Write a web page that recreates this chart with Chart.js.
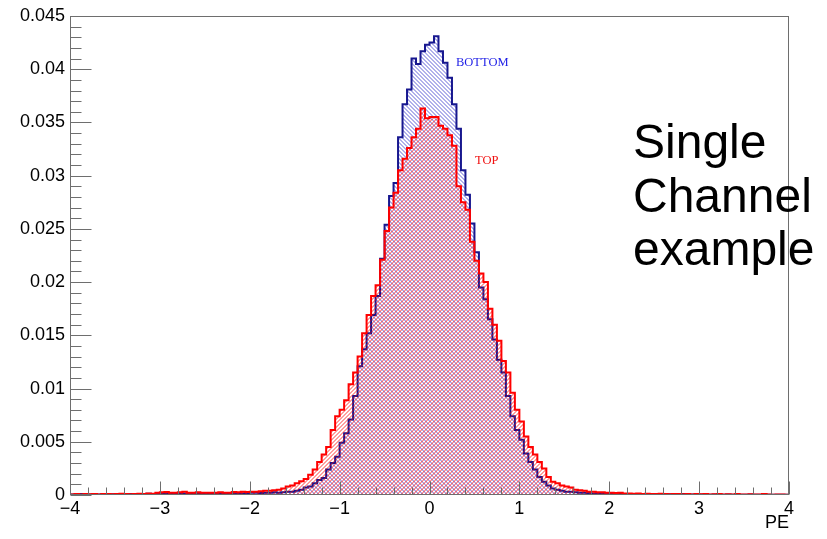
<!DOCTYPE html>
<html><head><meta charset="utf-8">
<script src="https://cdn.jsdelivr.net/npm/chart.js@4/dist/chart.umd.min.js"></script>
<style>html,body{margin:0;padding:0;background:#fff;}canvas{display:block;}</style>
</head><body>
<canvas id="c" width="827" height="539"></canvas>
<script>
// Histogram axis definition (categories = bins)
const histXMin = -4, histXMax = 4, histBins = 160;

// TOP channel (red), one value per bin
const topValues = [
 0.00005,0.0001,0.00005,0.0001,0.00008,0.0001,0.00005,0.0001,0.0001,0.00008,
 0.0001,0.00012,0.0001,0.00008,0.0001,0.00012,0.0001,0.00015,0.00012,0.0002,
 0.00025,0.00028,0.0002,0.00022,0.00025,0.0003,0.00022,0.0002,0.00025,0.0002,
 0.0002,0.00022,0.0002,0.00025,0.0002,0.00022,0.00028,0.00025,0.0003,0.00028,
 0.0003,0.0003,0.00035,0.0004,0.0004,0.00045,0.0005,0.0006,0.0008,0.0009,
 0.0011,0.0013,0.0015,0.0019,0.0024,0.0031,0.0038,0.0045,0.0061,0.0074,
 0.0080,0.0089,0.0104,0.0115,0.0130,0.0152,0.0169,0.0187,0.0197,0.0221,
 0.0248,0.0270,0.0284,0.0305,0.0316,0.0326,0.0336,0.0344,0.0363,0.0354,
 0.0355,0.0355,0.0347,0.0344,0.0338,0.0328,0.0290,0.0275,0.0268,0.0238,
 0.0220,0.0208,0.0200,0.0175,0.0160,0.0145,0.0126,0.0115,0.0096,0.0080,
 0.0069,0.0055,0.0045,0.0038,0.0031,0.0025,0.0017,0.00125,0.0011,0.0009,
 0.0008,0.0007,0.0005,0.00045,0.0004,0.0003,0.0003,0.00025,0.00025,0.0002,
 0.0002,0.00018,0.0002,0.00015,0.00015,0.00012,0.00015,0.0001,0.00012,0.0001,
 0.0001,0.00012,0.0001,0.00008,0.0001,0.0001,0.00008,0.0001,0.00005,0.0001,
 0.00008,0.0001,0.00005,0.00008,0.0001,0.00005,0.00008,0.00005,0.0001,0.00005,
 0.00005,0.00008,0.00005,0.00005,0.0001,0.00005,0.00003,0.00005,0.00005,0.00003
];

// BOTTOM channel (blue), one value per bin
const bottomValues = [
 0.00005,0.00005,0.0001,0.00005,0.00005,0.0001,0.00005,0.0001,0.00005,0.00008,
 0.0001,0.00005,0.0001,0.0001,0.00008,0.0001,0.0001,0.00012,0.0001,0.0001,
 0.00012,0.0001,0.00015,0.0001,0.00012,0.00015,0.0001,0.00012,0.0001,0.00012,
 0.0001,0.00012,0.0001,0.00015,0.00012,0.0001,0.00015,0.00012,0.00015,0.00018,
 0.0002,0.0002,0.00018,0.0002,0.00022,0.00025,0.0002,0.00025,0.0003,0.0003,
 0.0004,0.0005,0.0007,0.0008,0.0011,0.0014,0.0016,0.0024,0.0030,0.0036,
 0.0049,0.0058,0.0071,0.0093,0.0121,0.0137,0.0152,0.0169,0.0187,0.0222,
 0.0254,0.0281,0.0293,0.0336,0.0367,0.0381,0.0410,0.0405,0.0417,0.0423,
 0.0425,0.0431,0.0417,0.0406,0.0392,0.0367,0.0344,0.0305,0.0282,0.0255,
 0.0228,0.0195,0.0184,0.0165,0.0146,0.0127,0.0115,0.0093,0.0074,0.0061,
 0.0052,0.0039,0.0031,0.0024,0.0017,0.00125,0.0009,0.0006,0.0005,0.0004,
 0.0003,0.0003,0.00025,0.0002,0.0002,0.00018,0.00015,0.00015,0.00012,0.00012,
 0.0001,0.00012,0.0001,0.0001,0.00008,0.0001,0.0001,0.00008,0.0001,0.00005,
 0.00008,0.0001,0.00005,0.00008,0.00005,0.00005,0.0001,0.00005,0.00005,0.00008,
 0.00005,0.00005,0.00003,0.00005,0.00005,0.00003,0.00005,0.00003,0.00005,0.00003,
 0.00003,0.00005,0.00003,0.00003,0.00005,0.00003,0.00002,0.00003,0.00003,0.00002
];

const seriesNames = ['TOP', 'BOTTOM'];
const xTickValues = [-4, -3, -2, -1, 0, 1, 2, 3, 4];
const xTickLabels = ['\u22124', '\u22123', '\u22122', '\u22121', '0', '1', '2', '3', '4'];
const yTickLabels = ['0', '0.005', '0.01', '0.015', '0.02', '0.025', '0.03', '0.035', '0.04', '0.045'];
const xAxisTitle = 'PE';
const noteLines = ['Single', 'Channel', 'example'];

const canvas = document.getElementById('c');
const mainCtx = canvas.getContext('2d');

function toPoints(vals) {
  const w = (histXMax - histXMin) / histBins;
  const pts = vals.map((v, i) => ({ x: histXMin + i * w, y: v }));
  pts.push({ x: histXMax, y: vals[vals.length - 1] });
  return pts;
}

// 4px hatch tile with 2px-wide diagonal stripes
function hatch(color, dir) {
  const s = 4;
  const c = document.createElement('canvas');
  c.width = s; c.height = s;
  const g = c.getContext('2d');
  g.fillStyle = color;
  for (let yy = 0; yy < s; yy++) {
    for (let xx = 0; xx < s; xx++) {
      const k = dir > 0 ? (xx + yy) % s : ((xx - yy) % s + s) % s;
      if (dir > 0 ? (k === 2 || k === 3) : (k === 0 || k === 1)) g.fillRect(xx, yy, 1, 1);
    }
  }
  return mainCtx.createPattern(c, 'repeat');
}

Chart.defaults.font.family = "'Liberation Sans', Arial, sans-serif";
Chart.defaults.color = '#000';

const decor = {
  id: 'decor',
  afterDraw(chart) {
    const { ctx, chartArea: a, scales: { x, y } } = chart;
    ctx.save();
    ctx.strokeStyle = '#6e6e6e';
    ctx.lineWidth = 1;
    const L = Math.round(a.left) + 0.5, R = Math.round(a.right) - 0.5;
    const T = Math.round(a.top) + 0.5, B = Math.round(a.bottom) - 0.5;
    ctx.strokeRect(L, T, R - L, B - T);
    ctx.beginPath();
    for (let j = 0; j <= 40; j++) {
      const px = Math.round(x.getPixelForValue(histXMin + j * 0.2)) + 0.5;
      ctx.moveTo(px, B); ctx.lineTo(px, B - (j % 5 === 0 ? 13 : 7));
    }
    for (let j = 0; j <= 45; j++) {
      const py = Math.round(y.getPixelForValue(j * 0.001)) + 0.5;
      ctx.moveTo(L, py); ctx.lineTo(L + (j % 5 === 0 ? 21 : 11), py);
    }
    ctx.stroke();

    ctx.font = "12.5px 'Liberation Serif', 'Times New Roman', serif";
    ctx.textBaseline = 'alphabetic';
    ctx.textAlign = 'left';
    ctx.fillStyle = '#1e1ee6';
    ctx.fillText(seriesNames[1], 456, 66);
    ctx.fillStyle = '#f01010';
    ctx.fillText(seriesNames[0], 475, 164);

    ctx.fillStyle = '#000';
    ctx.font = "18px 'Liberation Sans', Arial, sans-serif";
    ctx.textAlign = 'right';
    ctx.fillText(xAxisTitle, 789, 528);

    ctx.textAlign = 'left';
    ctx.font = "48px 'Liberation Sans', Arial, sans-serif";
    noteLines.forEach((t, i) => ctx.fillText(t, 633, 158 + i * 53.5));
    ctx.restore();
  }
};

new Chart(canvas, {
  type: 'line',
  data: {
    datasets: [
      {
        label: seriesNames[0],
        data: toPoints(topValues),
        borderColor: '#ff0000',
        borderWidth: 2,
        backgroundColor: hatch('rgba(255,0,0,0.38)', 1),
        fill: 'origin',
        stepped: true,
        pointRadius: 0,
        tension: 0
      },
      {
        label: seriesNames[1],
        data: toPoints(bottomValues),
        borderColor: '#17178f',
        borderWidth: 2,
        backgroundColor: hatch('rgba(40,40,200,0.36)', -1),
        fill: 'origin',
        stepped: true,
        pointRadius: 0,
        tension: 0
      }
    ]
  },
  options: {
    responsive: false,
    animation: false,
    devicePixelRatio: 1,
    layout: { padding: { left: 0, top: 16, right: 38, bottom: 0 } },
    plugins: { legend: { display: false }, tooltip: { enabled: false } },
    scales: {
      x: {
        type: 'linear',
        min: histXMin, max: histXMax,
        grid: { display: false, drawTicks: false },
        border: { display: false },
        afterFit(s) { s.height = 44; },
        afterBuildTicks(s) { s.ticks = xTickValues.map(v => ({ value: v })); },
        ticks: {
          padding: 3, autoSkip: false, maxRotation: 0,
          font: { size: 18 }, color: '#000',
          callback: (v) => { const i = xTickValues.indexOf(v); return i >= 0 ? xTickLabels[i] : ''; }
        }
      },
      y: {
        type: 'linear',
        min: 0, max: 0.045,
        grid: { display: false, drawTicks: false },
        border: { display: false },
        afterFit(s) { s.width = 70; },
        afterBuildTicks(s) { s.ticks = yTickLabels.map((t, i) => ({ value: i * 0.005 })); },
        ticks: {
          padding: 5, autoSkip: false,
          font: { size: 18 }, color: '#000',
          callback: (v) => yTickLabels[Math.round(v / 0.005)]
        }
      }
    }
  },
  plugins: [decor]
});
</script>
</body></html>
